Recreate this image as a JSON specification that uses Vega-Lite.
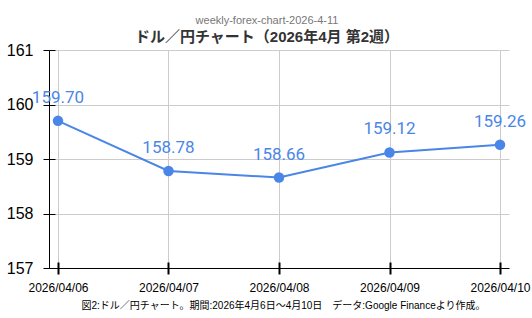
{
  "$schema": "https://vega.github.io/schema/vega-lite/v6.json",
  "autosize": {"type": "none"},
  "width": 460,
  "height": 218,
  "padding": {"left": 49, "top": 50, "right": 23, "bottom": 50},
  "background": "white",
  "title": {
    "text": "weekly-forex-chart-2026-4-11",
    "subtitle": "ドル／円チャート（2026年4月 第2週）",
    "anchor": "middle",
    "dx": -12,
    "offset": -3,
    "font": "Liberation Sans, Noto Sans CJK JP",
    "fontSize": 11,
    "fontWeight": "normal",
    "color": "#777777",
    "subtitleFont": "Liberation Sans, Noto Sans CJK JP",
    "subtitleFontSize": 15,
    "subtitleFontWeight": "bold",
    "subtitleColor": "#333333",
    "subtitlePadding": 4
  },
  "config": {
    "view": {"stroke": null},
    "axis": {"labelFont": "Liberation Sans", "titleFont": "Liberation Sans, Noto Sans CJK JP"}
  },
  "data": {
    "values": [
      {"date": "2026/04/06", "rate": 159.70},
      {"date": "2026/04/07", "rate": 158.78},
      {"date": "2026/04/08", "rate": 158.66},
      {"date": "2026/04/09", "rate": 159.12},
      {"date": "2026/04/10", "rate": 159.26}
    ]
  },
  "layer": [
    {
      "mark": {"type": "line", "color": "#4a86e8", "strokeWidth": 2},
      "encoding": {
        "x": {
          "field": "date", "type": "ordinal",
          "scale": {"type": "point", "padding": 0.0814},
          "axis": {
            "orient": "bottom",
            "title": "図2:ドル／円チャート。期間:2026年4月6日～4月10日　データ:Google Financeより作成。",
            "titleFontSize": 10,
            "titleFontWeight": "normal",
            "titleColor": "#000000",
            "titlePadding": 7,
            "titleX": 234,
            "labelAngle": 0,
            "labelFontSize": 12,
            "labelColor": "#000000",
            "labelPadding": 8,
            "tickSize": 6,
            "tickWidth": 2,
            "tickColor": "#000000",
            "domainColor": "#000000",
            "domainWidth": 1,
            "grid": true,
            "gridColor": "#cccccc",
            "labelOverlap": false
          }
        },
        "y": {
          "field": "rate", "type": "quantitative",
          "scale": {"domain": [157, 161], "nice": false, "zero": false},
          "axis": {
            "orient": "left",
            "title": null,
            "values": [157, 158, 159, 160, 161],
            "format": "d",
            "labelFontSize": 16,
            "labelColor": "#000000",
            "labelPadding": 10,
            "tickSize": 6,
            "tickWidth": 1,
            "tickColor": "#000000",
            "domainColor": "#000000",
            "domainWidth": 1,
            "grid": true,
            "gridColor": "#cccccc"
          }
        }
      }
    },
    {
      "mark": {"type": "point", "filled": true, "opacity": 1, "size": 110, "color": "#4a86e8"},
      "encoding": {
        "x": {"field": "date", "type": "ordinal", "axis": null},
        "y": {"field": "rate", "type": "quantitative", "axis": null}
      }
    },
    {
      "mark": {"type": "text", "color": "#4a86e8", "font": "Roboto", "fontSize": 17, "dy": -18, "baseline": "alphabetic", "align": "center"},
      "encoding": {
        "x": {"field": "date", "type": "ordinal", "axis": null},
        "y": {"field": "rate", "type": "quantitative", "axis": null},
        "text": {"field": "rate", "type": "quantitative", "format": ".2f"}
      }
    },
    {
      "mark": {"type": "point", "opacity": 0},
      "encoding": {
        "x": {
          "field": "date", "type": "ordinal",
          "axis": {"orient": "bottom", "title": null, "labels": false, "domain": false, "grid": false, "offset": -6, "tickSize": 6, "tickWidth": 2, "tickColor": "#000000"}
        },
        "y": {
          "field": "rate", "type": "quantitative",
          "axis": {"orient": "left", "title": null, "labels": false, "domain": false, "grid": false, "offset": -6, "tickSize": 6, "tickWidth": 1, "tickColor": "#000000", "values": [157, 158, 159, 160, 161]}
        }
      }
    }
  ],
  "resolve": {"axis": {"x": "independent", "y": "independent"}}
}
